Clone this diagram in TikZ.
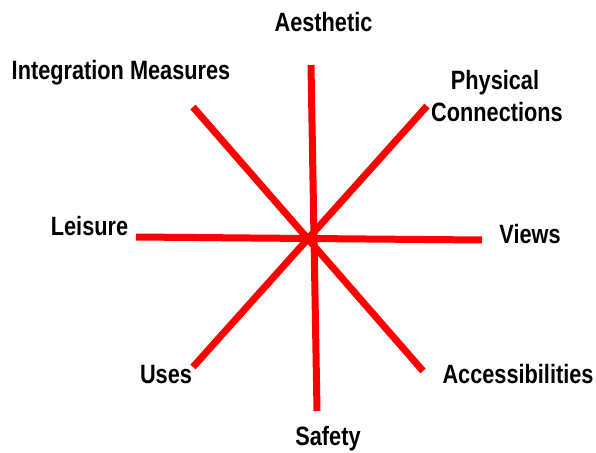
\documentclass[tikz,border=0pt]{standalone}
\usepackage{fontspec}
\newfontfamily\labelfont{Liberation Sans}[FakeStretch=0.82]
\begin{document}
\begin{tikzpicture}[x=1pt,y=-1pt,
  spoke/.style={draw=red,line width=7pt,line cap=butt},
  lbl/.style={font=\labelfont\bfseries\fontsize{26.5}{31}\selectfont,inner sep=0pt,anchor=base,text=black}]
\useasboundingbox (0,0) rectangle (596,452);
% spoke ends
\coordinate (n)  at (311,65);
\coordinate (s)  at (317,411);
\coordinate (w)  at (136,237);
\coordinate (e)  at (482,240);
\coordinate (ne) at (427,106);
\coordinate (sw) at (193,367);
\coordinate (nw) at (193,107);
\coordinate (se) at (423,371);
% spokes
\draw[spoke] (n) -- (s);
\draw[spoke] (w) -- (e);
\draw[spoke] (ne) -- (sw);
\draw[spoke] (nw) -- (se);
% labels
\node[lbl] (aesthetic) at (323.5,32) {Aesthetic};
\node[lbl] (integration) at (121,79) {Integration Measures};
\node[lbl] (physical) at (495,89) {Physical};
\node[lbl] (connections) at (497,121) {Connections};
\node[lbl] (leisure) at (89.5,235) {Leisure};
\node[lbl] (views) at (530,243) {Views};
\node[lbl] (uses) at (166,383) {Uses};
\node[lbl] (accessibilities) at (518,383) {Accessibilities};
\node[lbl] (safety) at (328,445) {Safety};
\end{tikzpicture}
\end{document}
